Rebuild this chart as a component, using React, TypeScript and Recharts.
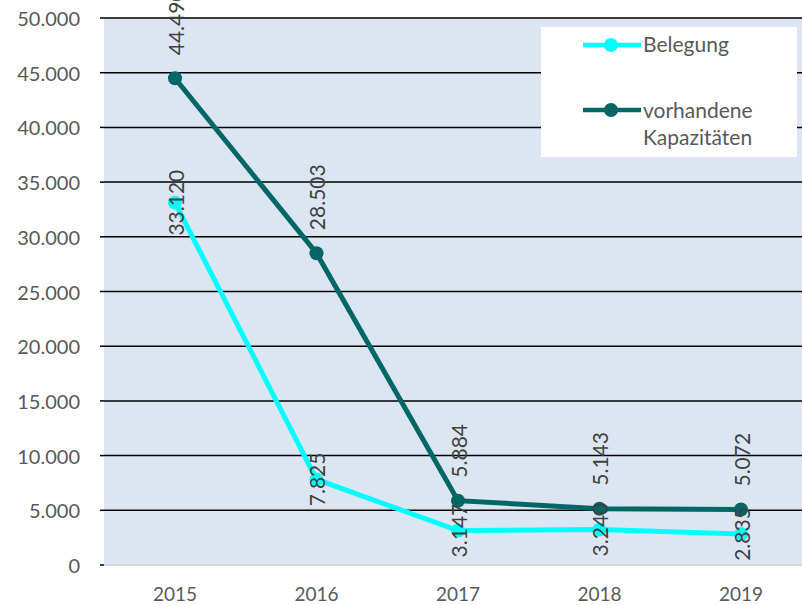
import { LineChart, Line, XAxis, YAxis, CartesianGrid, Legend, LabelList } from "recharts";

const years = ["2015", "2016", "2017", "2018", "2019"];
const belegung = [33120, 7825, 3147, 3240, 2835];
const kapazitaeten = [44490, 28503, 5884, 5143, 5072];
const yTicks = [0, 5000, 10000, 15000, 20000, 25000, 30000, 35000, 40000, 45000, 50000];

const data = years.map((year, i) => ({
  year,
  belegung: belegung[i],
  kapazitaeten: kapazitaeten[i],
}));

const CYAN = "#00FFFF";
const TEAL = "#006666";
const FONT = "Lato, 'Open Sans', sans-serif";

const fmt = (v: number) => String(v).replace(/\B(?=(\d{3})+(?!\d))/g, ".");

const YTick = ({ x, y, payload }: any) => (
  <text x={x} y={y} textAnchor="end" dominantBaseline="central" fill="#595959" fontSize={20} fontFamily={FONT}>
    {fmt(payload.value)}
  </text>
);

const XTick = ({ x, y, payload }: any) => (
  <text x={x} y={y} textAnchor="middle" dominantBaseline="central" fill="#595959" fontSize={19} fontFamily={FONT}>
    {payload.value}
  </text>
);

// rotated value labels; "above" starts over the point, otherwise centred on it
const makeLabel = (above: boolean) => (props: any) => {
  const { x, y, value } = props;
  const ty = above ? y - 23 : y;
  return (
    <text
      transform={`translate(${x},${ty}) rotate(-90)`}
      textAnchor={above ? "start" : "middle"}
      dominantBaseline="central"
      fill="#404040"
      fontSize={21}
      fontFamily={FONT}
    >
      {fmt(value)}
    </text>
  );
};

const LegendIcon = ({ color, top }: { color: string; top: number }) => (
  <svg width={58} height={18} style={{ position: "absolute", left: 42, top }}>
    <line x1={0} y1={9} x2={58} y2={9} stroke={color} strokeWidth={4.5} />
    <circle cx={28} cy={9} r={7} fill={color} />
  </svg>
);

const legendText: React.CSSProperties = {
  position: "absolute",
  left: 102,
  whiteSpace: "nowrap",
  lineHeight: "27px",
};

const LegendBox = () => (
  <div
    style={{
      position: "relative",
      width: 256,
      height: 130,
      background: "#fff",
      fontFamily: FONT,
      fontSize: 21,
      color: "#595959",
    }}
  >
    <LegendIcon color={CYAN} top={9} />
    <div style={{ ...legendText, top: 3 }}>Belegung</div>
    <LegendIcon color={TEAL} top={74} />
    <div style={{ ...legendText, top: 69 }}>vorhandene</div>
    <div style={{ ...legendText, top: 96 }}>Kapazitäten</div>
  </div>
);

export default function App() {
  return (
    <div style={{ position: "absolute", left: 0, top: 0, width: 802, height: 605, overflow: "hidden", background: "#fff" }}>
      <LineChart width={812} height={605} data={data} margin={{ top: 18, right: 0, bottom: 0, left: 0 }}>
        <CartesianGrid vertical={false} stroke="#000" strokeWidth={1.5} fill="#DCE6F2" fillOpacity={1} />
        <XAxis
          dataKey="year"
          height={40}
          padding={{ left: 71, right: 71 }}
          tickLine={false}
          tickSize={0}
          tickMargin={28}
          axisLine={{ stroke: "#D9D9D9", strokeWidth: 2 }}
          tick={<XTick />}
        />
        <YAxis
          width={104}
          domain={[0, 50000]}
          ticks={yTicks}
          interval={0}
          axisLine={false}
          tickLine={{ stroke: "#000", strokeWidth: 1.5 }}
          tickSize={4}
          tickMargin={20}
          tick={<YTick />}
        />
        <Legend
          layout="horizontal"
          verticalAlign="middle"
          align="center"
          wrapperStyle={{ left: 541, top: 27, width: 256, height: 130 }}
          content={() => <LegendBox />}
        />
        <Line
          dataKey="kapazitaeten"
          name="vorhandene Kapazitäten"
          stroke={TEAL}
          strokeWidth={5}
          dot={{ r: 7, fill: TEAL, stroke: TEAL, strokeWidth: 0 }}
          isAnimationActive={false}
        >
          <LabelList dataKey="kapazitaeten" content={makeLabel(true)} />
        </Line>
        <Line
          dataKey="belegung"
          name="Belegung"
          stroke={CYAN}
          strokeWidth={5}
          dot={{ r: 7, fill: CYAN, stroke: CYAN, strokeWidth: 0 }}
          isAnimationActive={false}
        >
          <LabelList dataKey="belegung" content={makeLabel(false)} />
        </Line>
      </LineChart>
    </div>
  );
}
